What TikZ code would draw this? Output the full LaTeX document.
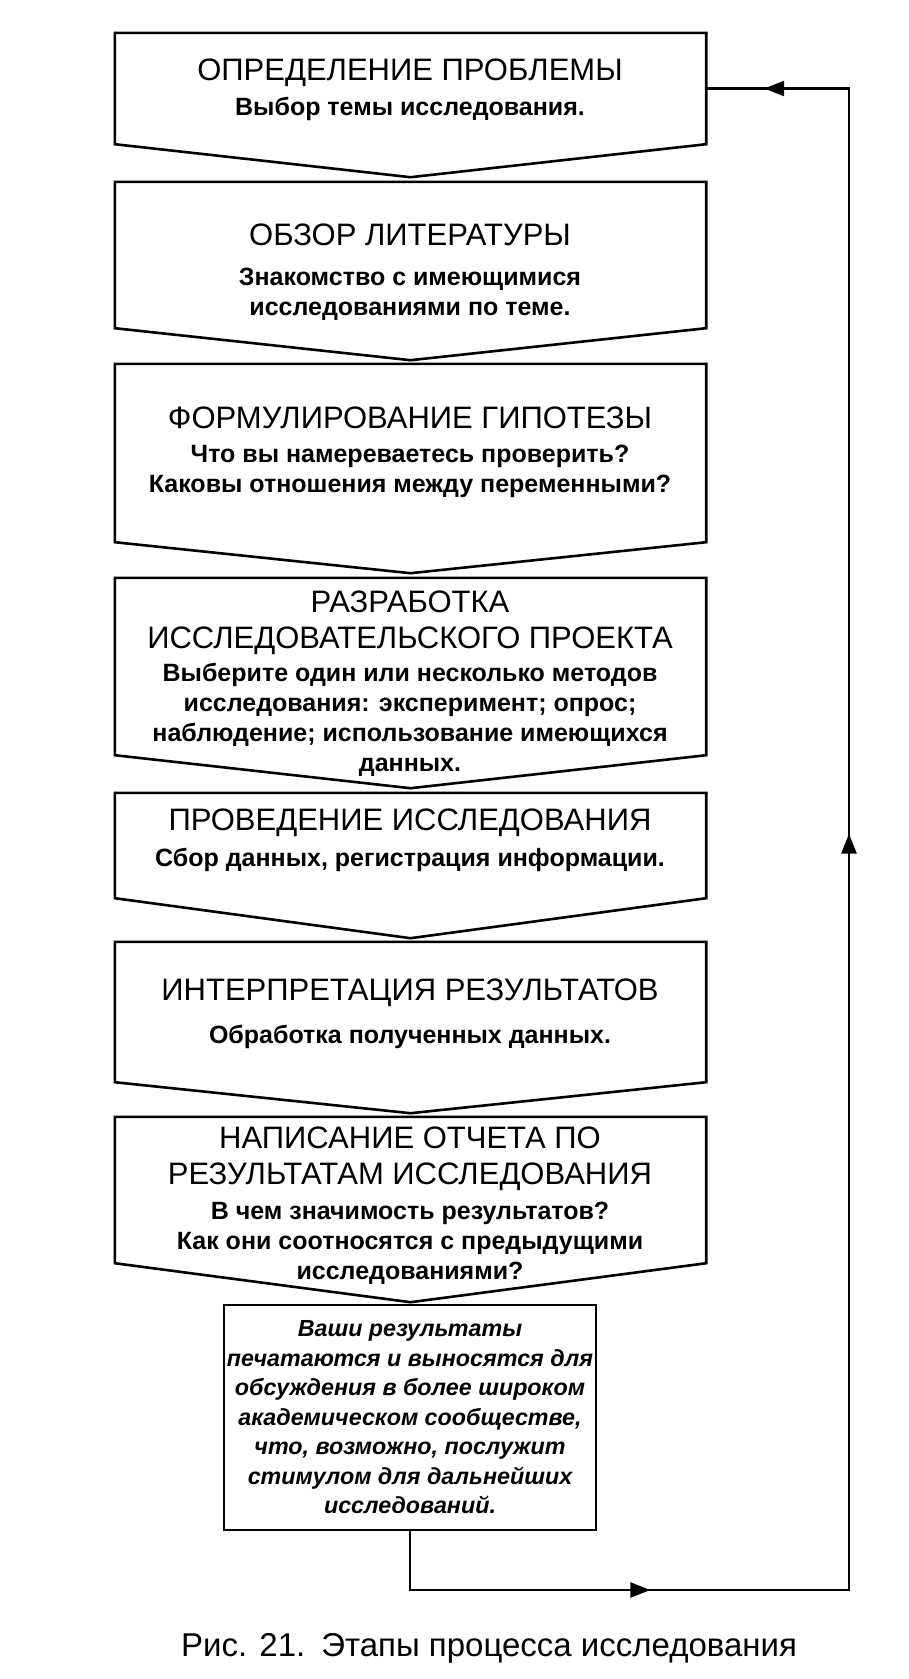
\documentclass[tikz,border=0pt]{standalone}
\usepackage{fontspec}
\setmainfont{Liberation Sans}
\usetikzlibrary{calc,arrows.meta,decorations.markings}
\tikzset{
  chev/.style={line width=2.6pt, line join=miter},
  frame/.style={minimum width=591pt, inner sep=0pt, draw=none},
  head/.style={font=\fontsize{31}{36}\selectfont, align=center, inner sep=0pt},
  sub/.style={font=\bfseries\fontsize{25}{30}\selectfont, align=center, inner sep=0pt},
  ital/.style={draw, line width=2.6pt, font=\bfseries\itshape\fontsize{23.3}{29.5}\selectfont, align=center, inner sep=0pt, minimum width=372pt, minimum height=225pt},
  flow/.style={line width=2.6pt},
  capt/.style={font=\fontsize{33}{38}\selectfont, inner sep=0pt}
}
\begin{document}
\begin{tikzpicture}[x=1pt,y=-1pt]
\useasboundingbox (0,0) rectangle (909,1679);
\foreach \n/\t/\b/\d in {1/33/144/33, 2/182/328/32, 3/364/542/31, 4/578/755/33, 5/793/898/40, 6/942/1082/31, 7/1117/1263/39} {
  \node[frame, minimum height={(\b-\t)*1pt}] (b\n) at (410.5, {(\t+\b)/2}) {};
  \draw[chev] (b\n.north west) -- (b\n.north east) -- (b\n.south east) -- ($(b\n.south)+(0,\d)$) -- (b\n.south west) -- cycle;
}
\node[head] (h1) at (410,73) {ОПРЕДЕЛЕНИЕ ПРОБЛЕМЫ};
\node[sub] (s1) at (410,109) {Выбор темы исследования.};
\node[head] (h2) at (410,235) {ОБЗОР ЛИТЕРАТУРЫ};
\node[sub] (s2) at (410,294) {Знакомство с имеющимися\\исследованиями по теме.};
\node[head] (h3) at (410,418) {ФОРМУЛИРОВАНИЕ ГИПОТЕЗЫ};
\node[sub] (s3) at (410,471) {Что вы намереваетесь проверить?\\Каковы отношения между переменными?};
\node[head] (h4) at (410,622.5) {РАЗРАБОТКА\\ИССЛЕДОВАТЕЛЬСКОГО ПРОЕКТА};
\node[sub] (s4) at (410,720) {Выберите один или несколько методов\\исследования: эксперимент; опрос;\\наблюдение; использование имеющихся\\данных.};
\node[head] (h5) at (410,823) {ПРОВЕДЕНИЕ ИССЛЕДОВАНИЯ};
\node[sub] (s5) at (410,860) {Сбор данных, регистрация информации.};
\node[head] (h6) at (410,993) {ИНТЕРПРЕТАЦИЯ РЕЗУЛЬТАТОВ};
\node[sub] (s6) at (410,1037) {Обработка полученных данных.};
\node[head] (h7) at (410,1159) {НАПИСАНИЕ ОТЧЕТА ПО\\РЕЗУЛЬТАТАМ ИССЛЕДОВАНИЯ};
\node[sub] (s7) at (410,1243) {В чем значимость результатов?\\Как они соотносятся с предыдущими\\исследованиями?};
\node[ital] (b8) at (410,1417.5) {Ваши результаты\\печатаются и выносятся для\\обсуждения в более широком\\академическом сообществе,\\что, возможно, послужит\\стимулом для дальнейших\\исследований.};
\coordinate (rb) at (849,1590);
\coordinate (rt) at (849,88.5);
\draw[flow, postaction={decorate, decoration={markings,
    mark=at position 299pt with {\arrow{Triangle[length=20pt,width=15pt]}},
    mark=at position 1254pt with {\arrow{Triangle[length=20pt,width=15pt]}},
    mark=at position 2084pt with {\arrow{Triangle[length=20pt,width=15pt]}}}}]
  (b8.south) |- (rb) -- (rt) -- (b1.east);
\node[capt] (cap) at (489,1648) {Рис. 21.\hspace{16pt}Этапы процесса исследования};
\end{tikzpicture}
\end{document}
